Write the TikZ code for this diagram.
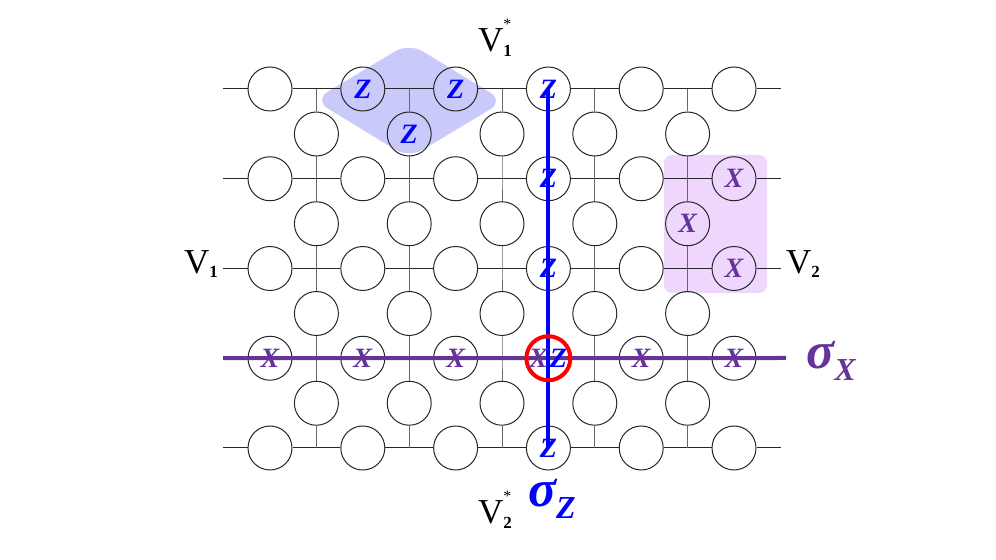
\documentclass[tikz,border=0pt]{standalone}
\usepackage{fontspec}
\setmainfont{Liberation Serif}
\usetikzlibrary{positioning}
\definecolor{zblue}{RGB}{0, 0, 255}
\definecolor{xpurple}{RGB}{102, 51, 153}
\definecolor{zshade}{RGB}{201, 201, 250}
\definecolor{xshade}{RGB}{238, 214, 252}
\newcommand{\latV}[1]{V\raisebox{-0.3ex}{\fontsize{8.5}{9}\selectfont\bfseries #1}}
\newcommand{\dualV}[1]{V\rlap{\raisebox{1.35ex}{\fontsize{8}{8}\selectfont *}}\raisebox{-0.35ex}{\fontsize{8.5}{9}\selectfont\bfseries #1}}
\newcommand{\pauli}[1]{{\bfseries\itshape σ}\raisebox{-0.5ex}{\fontsize{16}{16}\selectfont\bfseries\itshape #1}}

\begin{document}
\begin{tikzpicture}[x=0.5pt, y=-0.5pt,
      every node/.style={font=\fontsize{17.5}{19}\selectfont},
      qb/.style={draw=black!85, circle, minimum size=22pt, inner sep=0pt, line width=0.5pt},
      hl/.style={line width=0.5pt, black!85},
      vl/.style={line width=0.5pt, black!60},
      zop/.style={font=\fontsize{14}{15}\selectfont\bfseries\itshape, text=zblue, inner sep=0pt},
      xop/.style={font=\fontsize{14}{15}\selectfont\bfseries\itshape, text=xpurple, inner sep=0pt},
      pl/.style={font=\fontsize{26}{28}\selectfont, inner sep=0pt}
    ]
      \useasboundingbox (0,0) rectangle (996,560);

      % shaded star and plaquette
      \fill[zshade, rounded corners=8pt] (314,100) -- (409,43) -- (504,101) -- (409,158) -- cycle;
      \fill[xshade, rounded corners=4pt] (664,155) rectangle (767,293);

      % qubits on the lattice
      \foreach \r in {1,...,5} {
        \foreach \c in {1,...,6}
          \node[qb] (h-\r-\c) at ({270+92.8*(\c-1)}, {89+89.75*(\r-1)}) {};
        \foreach \c in {1,...,5}
          \coordinate (j-\r-\c) at ({316.4+92.8*(\c-1)}, {89+89.75*(\r-1)});
        \coordinate (lft-\r) at (223, {89+89.75*(\r-1)});
        \coordinate (rgt-\r) at (781, {89+89.75*(\r-1)});
      }
      \foreach \r in {1,...,4}
        \foreach \c in {1,...,5}
          \node[qb] (v-\r-\c) at ({316.4+92.8*(\c-1)}, {134+89.75*(\r-1)}) {};

      % lattice edges
      \foreach \r in {1,...,5}
        \draw[hl] (lft-\r) -- (h-\r-1) -- (h-\r-2) -- (h-\r-3) -- (h-\r-4) -- (h-\r-5) -- (h-\r-6) -- (rgt-\r);
      \foreach \c in {1,...,5}
        \draw[vl] (j-1-\c) -- (v-1-\c) -- (j-2-\c) -- (v-2-\c) -- (j-3-\c) -- (v-3-\c) -- (j-4-\c) -- (v-4-\c) -- (j-5-\c);

      % string operators
      \coordinate (sxend) at (786, 358);
      \draw[line width=2pt, xpurple] (lft-4) -- (sxend);
      \draw[line width=2pt, zblue] (h-1-4.center) -- (h-5-4.center);
      \node[qb, draw=red, line width=2pt] (cross) at (h-4-4) {};

      % Z operators
      \foreach \n/\q in {1/h-1-2, 2/h-1-3, 3/v-1-2, 4/h-1-4, 5/h-2-4, 6/h-3-4, 7/h-5-4}
        \node[zop] (zt-\n) at (\q) {Z};
      % X operators
      \foreach \n/\q in {1/h-2-6, 2/v-2-5, 3/h-3-6, 4/h-4-1, 5/h-4-2, 6/h-4-3, 7/h-4-5, 8/h-4-6}
        \node[xop] (xt-\n) at (\q) {X};
      \node[xop] (xz-x) at ([xshift=-5pt]h-4-4) {X};
      \node[zop] (xz-z) at ([xshift=5pt]h-4-4) {Z};

      % labels
      \node (v1s) at (495,38)  {\dualV{1}};
      \node (v2s) at (495,510) {\dualV{2}};
      \node (v1)  at (201,264) {\latV{1}};
      \node (v2)  at (803,264) {\latV{2}};
      \node[pl, text=xpurple] (sx) at (831,361) {\pauli{X}};
      \node[pl, text=zblue]   (sz) at (552,499) {\pauli{Z}};
    \end{tikzpicture}
\end{document}
